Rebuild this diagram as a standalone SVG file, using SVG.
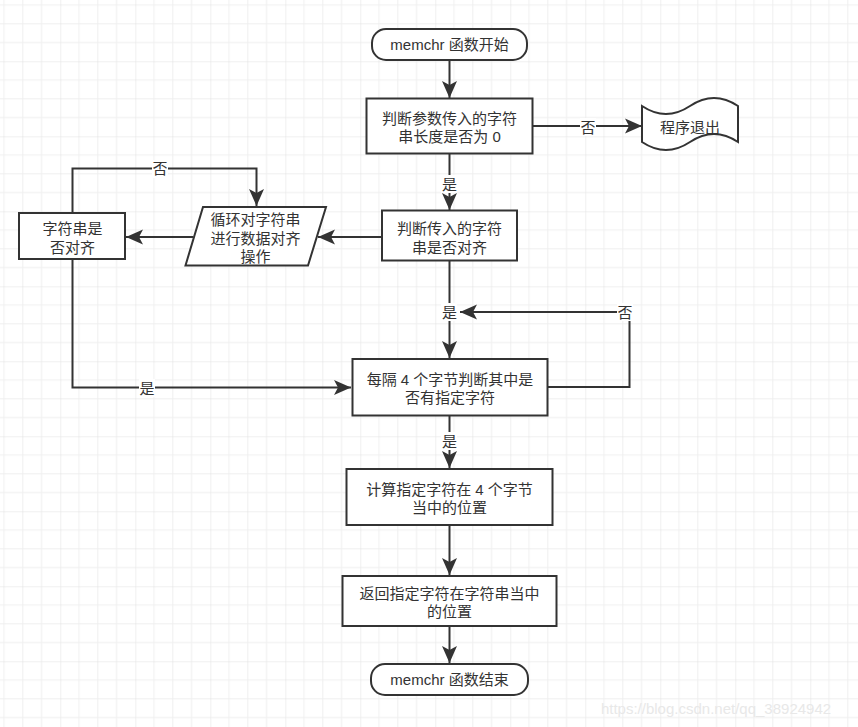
<svg xmlns="http://www.w3.org/2000/svg" width="858" height="727" viewBox="0 0 858 727">
<style>
.n{fill:#fff;stroke:#333;stroke-width:2}
.t{font-family:"Liberation Sans","Noto Sans CJK SC",sans-serif;font-size:15px;fill:#333;text-anchor:middle;dominant-baseline:central}
.e{fill:none;stroke:#333;stroke-width:2}
.lb{fill:#fff}
</style>
<defs>
<pattern id="grid" patternUnits="userSpaceOnUse" x="60.3" y="61.3" width="75" height="75">
<path d="M18.75,0V75M37.5,0V75M56.25,0V75M0,18.75H75M0,37.5H75M0,56.25H75" stroke="#efefef" stroke-width="1" fill="none"/>
<path d="M0,0V75M0,0H75" stroke="#e2e2e2" stroke-width="1" fill="none"/>
</pattern>
<marker id="ar" markerUnits="userSpaceOnUse" markerWidth="18" markerHeight="16" refX="17" refY="8" orient="auto">
<path d="M0,0.5 L17,8 L0,15.5 L4,8 Z" fill="#333"/>
</marker>
</defs>
<rect width="858" height="727" fill="#fff"/>
<rect width="858" height="727" fill="url(#grid)"/>

<g id="connectors">
<path class="e" d="M449.5,61 V98" marker-end="url(#ar)"/>
<path class="e" d="M532,126 H642" marker-end="url(#ar)"/>
<path class="e" d="M449.5,153 V210" marker-end="url(#ar)"/>
<path class="e" d="M382,237 H318" marker-end="url(#ar)"/>
<path class="e" d="M193,237 H126" marker-end="url(#ar)"/>
<path class="e" d="M72.5,212 V168.5 H256.5 V206" marker-end="url(#ar)"/>
<path class="e" d="M449.5,260 V358" marker-end="url(#ar)"/>
<path class="e" d="M547,387 H629.5 V312 H460" marker-end="url(#ar)"/>
<path class="e" d="M72.5,259 V387.5 H351" marker-end="url(#ar)"/>
<path class="e" d="M449.5,416 V468" marker-end="url(#ar)"/>
<path class="e" d="M449.5,525 V575" marker-end="url(#ar)"/>
<path class="e" d="M449.5,626 V663" marker-end="url(#ar)"/>
<g id="labels">
<rect class="lb" x="580" y="118" width="16" height="18"/><text class="t" x="588" y="127">否</text>
<rect class="lb" x="441" y="175" width="16" height="18"/><text class="t" x="449.5" y="184">是</text>
<rect class="lb" x="152" y="160" width="16" height="18"/><text class="t" x="160" y="168">否</text>
<rect class="lb" x="441" y="303" width="16" height="18"/><text class="t" x="449.5" y="312">是</text>
<rect class="lb" x="617" y="303" width="16" height="18"/><text class="t" x="625" y="312">否</text>
<rect class="lb" x="139" y="379" width="16" height="18"/><text class="t" x="147" y="388">是</text>
<rect class="lb" x="441" y="432" width="16" height="18"/><text class="t" x="449.5" y="441">是</text>
</g>
</g>

<g id="start">
<rect class="n" x="372" y="29" width="155" height="31" rx="14" ry="14"/>
<text class="t" x="449.5" y="44.5">memchr 函数开始</text>
</g>
<g id="check-length">
<rect class="n" x="366.5" y="98.5" width="166" height="55"/>
<text class="t" x="449.5" y="118">判断参数传入的字符</text>
<text class="t" x="449.5" y="136.5">串长度是否为 0</text>
</g>
<g id="exit">
<path class="n" d="M642,106 Q666,122 690,106 Q714,90 738,106 V142 Q714,126 690,142 Q666,158 642,142 Z"/>
<text class="t" x="690" y="127">程序退出</text>
</g>
<g id="check-align">
<rect class="n" x="382" y="210.5" width="135" height="50"/>
<text class="t" x="449.5" y="228.5">判断传入的字符</text>
<text class="t" x="449.5" y="247">串是否对齐</text>
</g>
<g id="align-loop">
<path class="n" d="M203,207 H326 L308,265.5 H185.5 Z"/>
<text class="t" x="255.5" y="219">循环对字符串</text>
<text class="t" x="255.5" y="238">进行数据对齐</text>
<text class="t" x="255.5" y="256">操作</text>
</g>
<g id="is-aligned">
<rect class="n" x="19" y="213" width="106" height="46"/>
<text class="t" x="72.5" y="228.5">字符串是</text>
<text class="t" x="72.5" y="247">否对齐</text>
</g>
<g id="scan-4bytes">
<rect class="n" x="352.5" y="359" width="195" height="56.5"/>
<text class="t" x="450" y="379">每隔 4 个字节判断其中是</text>
<text class="t" x="450" y="397">否有指定字符</text>
</g>
<g id="calc-pos">
<rect class="n" x="346.5" y="469" width="206" height="56"/>
<text class="t" x="449.5" y="489">计算指定字符在 4 个字节</text>
<text class="t" x="449.5" y="507">当中的位置</text>
</g>
<g id="return-pos">
<rect class="n" x="342.5" y="576" width="214" height="50"/>
<text class="t" x="449.5" y="593">返回指定字符在字符串当中</text>
<text class="t" x="449.5" y="611">的位置</text>
</g>
<g id="end">
<rect class="n" x="371" y="664" width="157" height="31" rx="14" ry="14"/>
<text class="t" x="449.5" y="679.5">memchr 函数结束</text>
</g>
<text x="716" y="708" style="font-family:'Liberation Sans',Arial,sans-serif;font-size:15px;fill:#e8e8e8;text-anchor:middle;dominant-baseline:central">https://blog.csdn.net/qq_38924942</text>
</svg>
